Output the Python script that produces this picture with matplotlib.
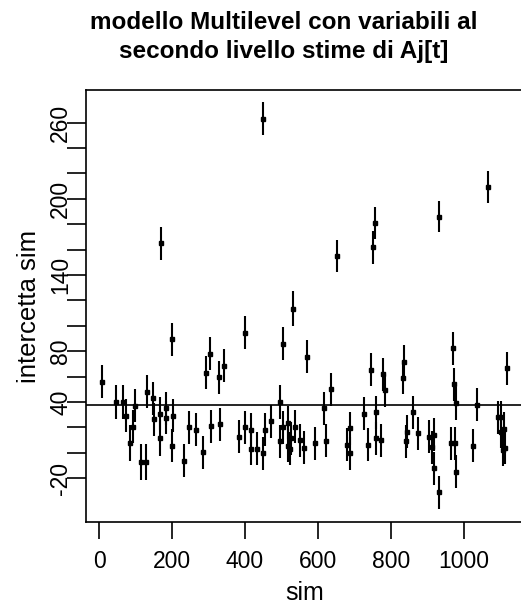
import matplotlib
matplotlib.use("Agg")
import matplotlib.pyplot as plt

plt.rcParams['font.family'] = ['Liberation Sans', 'DejaVu Sans']

# simulation index and estimate of the intercept, with half-width of the bar
sim = [8, 47, 66, 74, 85, 93, 99, 114, 129, 132, 147, 151, 166, 166, 170, 184, 184,
       199, 203, 199, 233, 247, 266, 285, 293, 304, 308, 328, 332, 341, 384, 399,
       399, 416, 416, 433, 450, 450, 456, 470, 497, 503, 497, 503, 517, 517, 522,
       526, 531, 537, 551, 561, 570, 593, 616, 622, 636, 651, 679, 689, 689, 727,
       736, 745, 751, 756, 760, 760, 774, 779, 784, 832, 836, 841, 845, 860, 874,
       903, 912, 917, 917, 932, 932, 964, 970, 973, 975, 978, 978, 1026, 1036,
       1065, 1094, 1101, 1101, 1107, 1111, 1113, 1118]
stima = [56, 40, 40, 29, 7.6, 20.6, 37, -7.4, -7.4, 48, 43, 26.5, 30.6, 11.5, 165,
         35, 27.7, 89.4, 29, 5.7, -6.4, 20, 18.3, 0.5, 63, 78, 21, 59.5, 22.5, 68.7,
         12.8, 94.6, 20, 18.3, 3.3, 3.3, 263, -0.3, 18.3, 25, 40, 86, 9, 20, 23.8,
         5.7, 3.3, 11.5, 113.5, 20.6, 10, 4.1, 75.8, 7.6, 35, 9.6, 50, 155, 6.2,
         19.4, -0.3, 30.6, 6.2, 65.3, 162, 181, 32, 11.5, 10, 62, 49.3, 59, 71.6,
         9, 16.7, 32, 15.4, 12.8, 4.4, 14.3, -12, 186, -31, 7.6, 82.3, 54, 7.6, 39,
         -15, 5.7, 37.7, 209.6, 28, 28, 16.7, 2.3, 18.8, 4.1, 66.6]
semi = [13, 13, 13, 13, 14, 13, 13, 14, 14, 13, 13, 13, 13, 14, 13, 13, 13, 13, 13,
        13, 13, 13, 13, 13, 13, 13, 13, 13, 13, 13, 13, 13, 13, 13, 13, 13, 13, 13,
        13, 13, 13, 13, 13, 13, 13, 13, 13, 13, 14, 13, 13, 13, 13, 13, 13, 13, 13,
        12.5, 13, 13, 13, 13, 13, 13, 13, 12.5, 13, 13, 13, 13, 13, 13, 13, 13, 13,
        13, 13, 13, 13, 13, 13, 12.5, 13, 13, 13, 13, 13, 13, 13, 13, 13, 12.5, 13,
        13, 13, 13, 13, 13, 13]
media = 37.7

yticks = list(range(-20, 261, 20))
ylabels = [str(v) if v in (-20, 40, 80, 140, 200, 260) else '' for v in yticks]
xticks = [0, 200, 400, 600, 800, 1000]

W, H = 521, 612
fig = plt.figure(figsize=(W / 100, H / 100), dpi=100)
ax = fig.add_axes([86 / W, 1 - 522 / H, (523 - 86) / W, (522 - 90) / H])

ax.errorbar(sim, stima, yerr=semi, fmt='s', color='black', ms=2.9,
            elinewidth=1.5, capsize=0)
ax.axhline(media, color='black', lw=1.2)

ax.set_xlim(-36, 1162)
ax.set_ylim(-54.5, 285.7)
ax.set_xticks(xticks)
ax.set_yticks(yticks)
ax.set_yticklabels(ylabels, rotation=90, va='center')
ax.tick_params(direction='out', width=1.2, labelsize=16.5)
ax.tick_params(axis='x', length=12, pad=8)
ax.tick_params(axis='y', length=13.5, pad=-3.5)
for s in ax.spines.values():
    s.set_linewidth(1.2)

ax.set_xlabel('sim', fontsize=18, labelpad=6)
ax.set_ylabel('intercetta sim', fontsize=18.5, labelpad=6)

fig.text(284 / W, 1 - 37 / H,
         'modello Multilevel con variabili al\nsecondo livello stime di Aj[t]',
         ha='center', va='center', fontsize=17.5, fontweight='bold', linespacing=1.3)

fig.savefig('out.png', dpi=100)
